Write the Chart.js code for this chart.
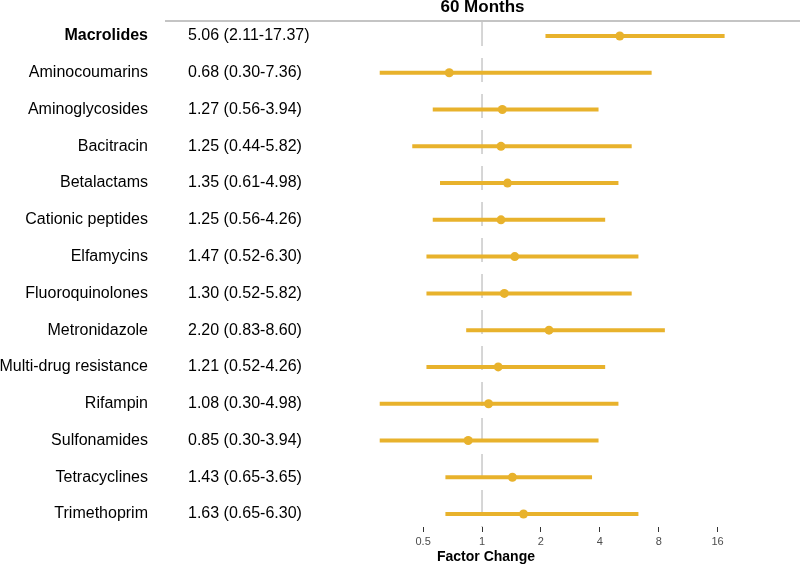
<!DOCTYPE html>
<html>
<head>
<meta charset="utf-8">
<script src="https://cdn.jsdelivr.net/npm/chart.js@4.4.1/dist/chart.umd.min.js"></script>
<style>
  html, body { margin: 0; padding: 0; background: #ffffff; }
  canvas { display: block; }
</style>
</head>
<body>
<canvas id="c" width="800" height="565"></canvas>
<script>
// ---- Data ----
const categories = ["Macrolides", "Aminocoumarins", "Aminoglycosides", "Bacitracin", "Betalactams",
  "Cationic peptides", "Elfamycins", "Fluoroquinolones", "Metronidazole", "Multi-drug resistance",
  "Rifampin", "Sulfonamides", "Tetracyclines", "Trimethoprim"];
const estimates = [5.06, 0.68, 1.27, 1.25, 1.35, 1.25, 1.47, 1.30, 2.20, 1.21, 1.08, 0.85, 1.43, 1.63];
const lowerCI   = [2.11, 0.30, 0.56, 0.44, 0.61, 0.56, 0.52, 0.52, 0.83, 0.52, 0.30, 0.30, 0.65, 0.65];
const upperCI   = [17.37, 7.36, 3.94, 5.82, 4.98, 4.26, 6.30, 5.82, 8.60, 4.26, 4.98, 3.94, 3.65, 6.30];
const boldRows  = ["Macrolides"];
const xTickValues = [0.5, 1, 2, 4, 8, 16];
const titleText = "60 Months";
const xAxisTitle = "Factor Change";

// ---- Styles ----
const GOLD = "#E8B22C";
const FONT = "'Liberation Sans', Arial, Helvetica, sans-serif";

function fmt(v) { return v.toFixed(2); }

const ciDatasets = categories.map((name, i) => ({
  type: "line",
  label: name,
  data: [{ x: lowerCI[i], y: i }, { x: upperCI[i], y: i }],
  borderColor: GOLD,
  borderWidth: 4,
  borderCapStyle: "butt",
  pointRadius: 0,
  fill: false,
  order: 1
}));

const pointDataset = {
  type: "scatter",
  label: "Estimate",
  data: categories.map((name, i) => ({ x: estimates[i], y: i })),
  backgroundColor: GOLD,
  borderWidth: 0,
  pointRadius: 4.5,
  order: 0
};

const decorPlugin = {
  id: "decor",
  beforeDatasetsDraw(chart) {
    const { ctx, chartArea, scales } = chart;
    const x1 = scales.x.getPixelForValue(1);
    ctx.save();
    ctx.strokeStyle = "#c9c9c9";
    ctx.lineWidth = 1.5;
    ctx.setLineDash([24, 12]);
    ctx.beginPath();
    ctx.moveTo(x1, chartArea.top + 2);
    ctx.lineTo(x1, chartArea.bottom);
    ctx.stroke();
    ctx.restore();
  },
  afterDraw(chart) {
    const { ctx, chartArea, scales } = chart;
    ctx.save();
    // top rule
    ctx.strokeStyle = "#8a8a8a";
    ctx.lineWidth = 1.2;
    ctx.beginPath();
    ctx.moveTo(165, 21);
    ctx.lineTo(800, 21);
    ctx.stroke();
    // title
    ctx.fillStyle = "#000";
    ctx.font = "bold 17px " + FONT;
    ctx.textAlign = "center";
    ctx.textBaseline = "middle";
    ctx.fillText(titleText, 482.5, 7);
    // row labels
    categories.forEach((name, i) => {
      const y = scales.y.getPixelForValue(i);
      ctx.font = (boldRows.includes(name) ? "bold " : "") + "16px " + FONT;
      ctx.textAlign = "right";
      ctx.fillStyle = "#000";
      ctx.fillText(name, 148, y);
      ctx.font = "16px " + FONT;
      ctx.textAlign = "left";
      ctx.fillText(fmt(estimates[i]) + " (" + fmt(lowerCI[i]) + "-" + fmt(upperCI[i]) + ")", 188, y);
    });
    // axis title
    ctx.font = "bold 14px " + FONT;
    ctx.textAlign = "center";
    ctx.fillText(xAxisTitle, 486, 557);
    ctx.restore();
  }
};

new Chart(document.getElementById("c"), {
  type: "scatter",
  data: { datasets: [pointDataset, ...ciDatasets] },
  options: {
    responsive: false,
    animation: false,
    layout: { padding: { left: 340, right: 10, top: 20, bottom: 0 } },
    plugins: { legend: { display: false }, tooltip: { enabled: false }, title: { display: false } },
    scales: {
      x: {
        type: "logarithmic",
        position: "bottom",
        min: 0.188,
        max: 37.5,
        afterBuildTicks: axis => { axis.ticks = xTickValues.map(v => ({ value: v })); },
        afterFit: s => { s.height = 38; },
        ticks: {
          autoSkip: false,
          maxRotation: 0,
          padding: 3,
          color: "#4d4d4d",
          font: { family: FONT, size: 11 },
          callback: v => String(v)
        },
        grid: { drawOnChartArea: false, drawTicks: true, tickLength: 5, color: "#333333", lineWidth: 1 },
        border: { display: false }
      },
      y: {
        type: "linear",
        display: false,
        reverse: true,
        min: -0.435,
        max: 13.353
      }
    }
  },
  plugins: [decorPlugin]
});
</script>
</body>
</html>
